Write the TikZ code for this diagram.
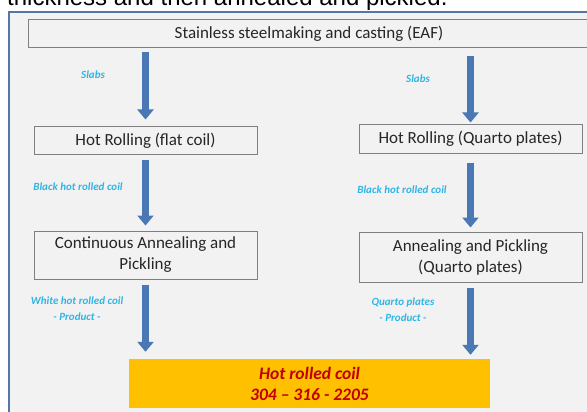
\documentclass[tikz,border=0pt]{standalone}
\usepackage{fontspec}
\setmainfont{Carlito}
\newfontfamily\captionfont{Liberation Sans}
\usepackage{tikz}
\usetikzlibrary{arrows.meta}
\usetikzlibrary{calc}
\definecolor{panelgray}{HTML}{F2F2F2}
\definecolor{panelblue}{HTML}{5676A6}
\definecolor{boxgray}{HTML}{7F7F7F}
\definecolor{arrowblue}{HTML}{4A78B4}
\definecolor{tagblue}{HTML}{2FB5E6}
\definecolor{coilorange}{HTML}{FFC000}
\definecolor{coilred}{HTML}{C00000}

\begin{document}
\begin{tikzpicture}[x=1pt, y=-1pt, step node/.style={draw=boxgray, line width=1pt, fill=panelgray, inner sep=0pt, align=center, text=black!85, font=\fontsize{17}{21}\selectfont}, tag node/.style={inner sep=0pt, align=center, text=tagblue, font=\fontsize{11}{16}\selectfont\bfseries\itshape}, result node/.style={fill=coilorange, inner sep=0pt, align=center, text=coilred, font=\fontsize{17.5}{21}\selectfont\bfseries\itshape}, flow/.style={draw=arrowblue, line width=7pt, -{Triangle[width=16pt, length=10pt]}}]
      \useasboundingbox (0,0) rectangle (587,412);
      \clip (0,0) rectangle (587,412);
      \node[anchor=base west, inner sep=0pt, font=\captionfont\fontsize{24}{28}\selectfont] (caption) at (7,6) {thickness and then annealed and pickled.};
      \fill[panelgray] (9,12) rectangle (600,420);
      \draw[panelblue, line width=1.5pt] (600,12) -- (9,12) -- (9,420);
      \node[step node, minimum width=562pt, minimum height=28pt] (eaf) at (309,34) {Stainless steelmaking and casting (EAF)};
      \node[step node, minimum width=223pt, minimum height=27pt] (hr1) at (145.5,140.5) {Hot Rolling (flat coil)};
      \node[step node, minimum width=223pt, minimum height=28pt] (hr2) at (470.5,139) {Hot Rolling (Quarto plates)};
      \node[step node, minimum width=223pt, minimum height=48pt] (ap1) at (145.5,255) {Continuous Annealing and\\Pickling};
      \node[step node, minimum width=223pt, minimum height=50pt] (ap2) at (470.5,257) {Annealing and Pickling\\(Quarto plates)};
      \node[result node, minimum width=361pt, minimum height=49pt] (coil) at (309.5,383.5) {Hot rolled coil\\304 -- 316 - 2205};
      \node[tag node] (slabs1) at (93,75) {Slabs};
      \node[tag node] (slabs2) at (418,79) {Slabs};
      \node[tag node] (black1) at (78,187) {Black hot rolled coil};
      \node[tag node] (black2) at (402,190) {Black hot rolled coil};
      \node[tag node] (white1) at (77,309) {White hot rolled coil\\- Product -};
      \node[tag node] (plates2) at (403,310) {Quarto plates\\- Product -};
      \draw[flow, shorten <=4pt, shorten >=7pt] (eaf.south -| hr1.north) -- (hr1.north);
      \draw[flow, shorten <=8pt, shorten >=2pt] (eaf.south -| hr2.north) -- (hr2.north);
      \draw[flow, shorten <=5pt, shorten >=5pt] (hr1) -- (ap1);
      \draw[flow, shorten <=9pt, shorten >=4pt] (hr2) -- (ap2);
      \draw[flow, shorten <=5pt, shorten >=7pt] (ap1.south) -- (coil.north -| ap1.south);
      \draw[flow, shorten <=5pt, shorten >=4pt] (ap2.south) -- (coil.north -| ap2.south);
    \end{tikzpicture}
\end{document}
